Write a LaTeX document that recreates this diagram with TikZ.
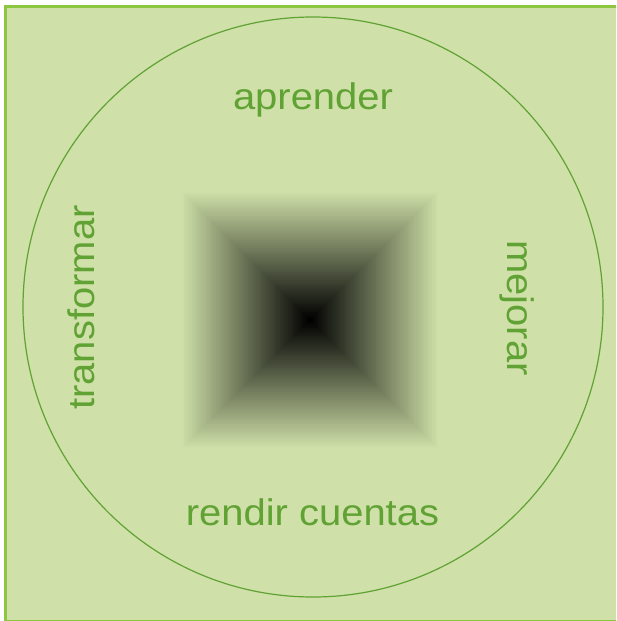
\documentclass[tikz,border=0pt]{standalone}
\usepackage{fontspec}
\setmainfont{Liberation Sans}
\newfontfamily\ancha[FakeStretch=1.08]{Liberation Sans}
\definecolor{fondo}{RGB}{207,224,168}
\definecolor{borde}{RGB}{141,198,63}
\definecolor{verde}{RGB}{96,162,52}

\begin{document}
\begin{tikzpicture}[x=1pt,y=-1pt,
    etiqueta/.style={text=verde, font=\ancha\fontsize{37}{44}\selectfont, inner sep=0pt, anchor=base}]
            \useasboundingbox (0,0) rectangle (616,621);
            \fill[white] (0,0) rectangle (616,621);
            \begin{scope}
            \clip (0,0) rectangle (616,621);
            \draw[fill=fondo, draw=borde, line width=3pt] (5.5,6.5) rectangle (625,621);
            \end{scope}
            % cuadro sombreado
            \foreach \i in {0,...,64}{
              \pgfmathsetmacro\h{130-2*\i}
              \pgfmathtruncatemacro\p{100*\i/64}
              \fill[black!\p!fondo] (310-\h,320-\h) rectangle (310+\h,320+\h);
            }
            \draw[verde, line width=1.2pt] (313,307) circle [radius=290];
            \node[etiqueta] (aprender) at (313,109) {aprender};
            \node[etiqueta] (rendir) at (312.5,525) {rendir cuentas};
            \node[etiqueta, rotate=90] (transformar) at (94,307.5) {transformar};
            \node[etiqueta, rotate=-90] (mejorar) at (507,308) {mejorar};
\end{tikzpicture}
\end{document}
